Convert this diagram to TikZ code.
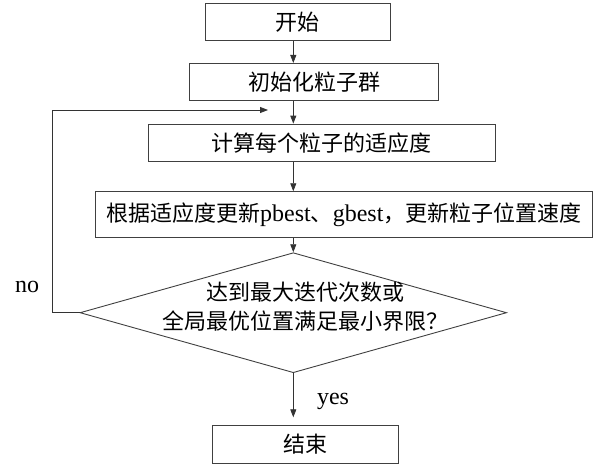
\documentclass[tikz,border=0pt]{standalone}
\usepackage{fontspec}
\setmainfont{Liberation Serif}[Scale=1.09]
\newfontfamily\cjk{Noto Sans CJK SC}
\usetikzlibrary{arrows.meta,positioning,shapes.geometric}
\newcommand{\zh}[1]{{\cjk #1}}

\begin{document}
\begin{tikzpicture}[x=1pt, y=-1pt,
  box/.style={draw=black!75, line width=0.9pt, inner sep=0pt, fill=white,
    minimum height=37.5pt, font=\fontsize{22}{26}\selectfont},
  cond/.style={draw=black!75, line width=0.9pt, diamond, inner sep=0pt,
    minimum width=426.6pt, minimum height=120pt},
  txt/.style={align=center, inner sep=0pt, font=\fontsize{22}{29.3}\selectfont},
  e/.style={-{Triangle[length=8pt,width=6pt]}, black!80, line width=0.8pt},
  lbl/.style={font=\fontsize{22}{26}\selectfont, inner sep=0pt}
]
  \useasboundingbox (0,0) rectangle (596,468);
  \node[box, minimum width=185pt] (start) at (297.5,22) {\zh{开始}};
  \node[box, minimum width=249.4pt] (init) at (314,82.2) {\zh{初始化粒子群}};
  \node[box, minimum width=346.3pt] (fit) at (321.8,142.8) {\zh{计算每个粒子的适应度}};
  \node[box, minimum width=497.7pt, minimum height=45.6pt] (upd) at (343.8,214.5)
    {\zh{根据适应度更新}pbest\zh{、}gbest\zh{，更新粒子位置速度}};
  \node[cond] (check) at (293.3,312.7) {};
  \node[txt] (checktxt) at (305,306.5)
    {\zh{达到最大迭代次数或}\\\zh{全局最优位置满足最小界限？}};
  \node[box, minimum width=185.3pt] (stop) at (305.3,444.5) {\zh{结束}};
  \node[lbl] (no) at (27,287) {no};
  \node[lbl] (yes) at (333,401) {yes};
  \coordinate (ax) at (293.3,0);
  \coordinate (loopx) at (52.3,0);
  \coordinate (back) at (268,110);
  \draw[e] (start.south -| ax) -- (init.north -| ax);
  \draw[e] (init.south -| ax) -- (fit.north -| ax);
  \draw[e] (fit.south -| ax) -- (upd.north -| ax);
  \draw[e] (upd.south -| ax) -- (check.north);
  \draw[e, shorten >=8pt] (check.south) -- (stop.north -| ax);
  \draw[e] (check.west) -- (check.west -| loopx) |- (back);
\end{tikzpicture}
\end{document}
